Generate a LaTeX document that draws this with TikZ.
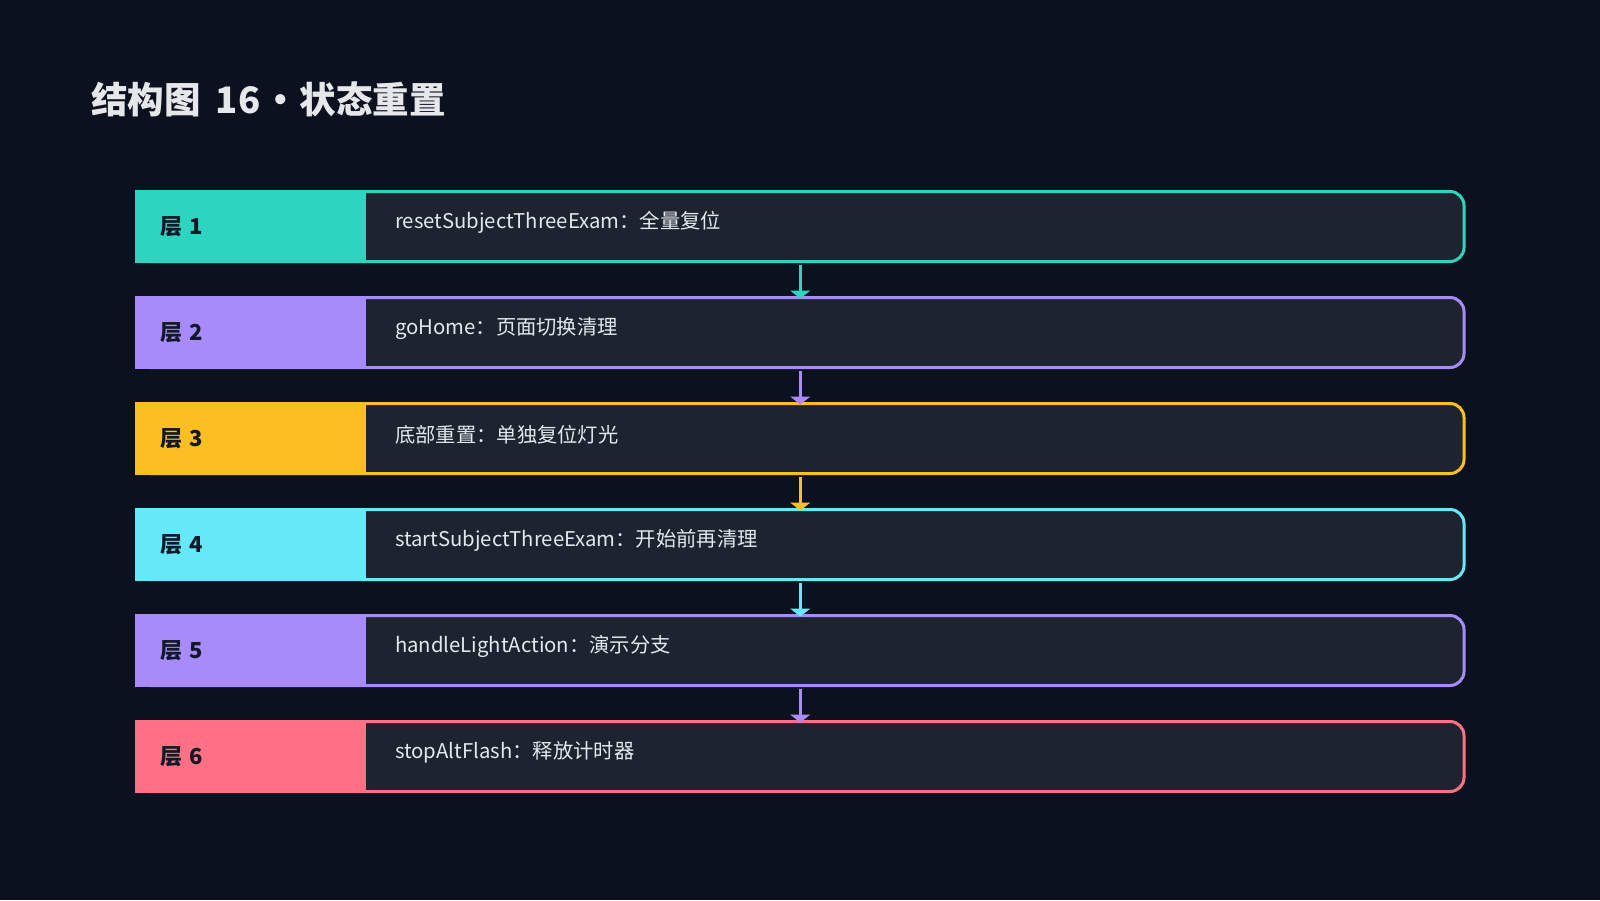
\documentclass[tikz,border=0pt]{standalone}
\usepackage{fontspec}
\setmainfont{Noto Sans CJK SC}
\usetikzlibrary{arrows.meta}
\definecolor{bg}{HTML}{0B111E}
\definecolor{panel}{HTML}{1E2330}
\definecolor{cteal}{HTML}{2DD4BF}
\definecolor{cpurple}{HTML}{A78BFA}
\definecolor{camber}{HTML}{FBBF24}
\definecolor{ccyan}{HTML}{67E8F9}
\definecolor{cpink}{HTML}{FF7085}
\definecolor{titletext}{HTML}{E5E7EB}
\definecolor{valtext}{HTML}{E2E8F0}
\definecolor{labtext}{HTML}{111827}
\tikzset{
  rowbox/.style={draw=#1, line width=3pt, fill=panel, rounded corners=14pt,
    minimum width=1327.5pt, minimum height=70pt, inner sep=0pt, outer sep=0pt},
  labbox/.style={fill=#1, minimum width=231pt, minimum height=73pt, inner sep=0pt, outer sep=0pt},
  labtxt/.style={text=labtext, font=\fontsize{22}{26}\selectfont\bfseries, anchor=west, inner sep=0pt},
  valtxt/.style={text=valtext, font=\fontsize{20.3}{24}\selectfont, anchor=west, inner sep=0pt},
  flow/.style={draw=#1, line width=3.5pt, -{Triangle[width=20pt,length=8pt]}, shorten <=3.5pt, shorten >=-1pt},
}
\begin{document}
\begin{tikzpicture}[x=1pt,y=-1pt]
\fill[bg] (0,0) rectangle (1600,900);
\useasboundingbox (0,0) rectangle (1600,900);
\node[anchor=base west, inner sep=0pt, text=titletext, font=\fontsize{36.5}{44}\selectfont\bfseries] (title) at (91,113) {结构图\hspace{0.42em}16\hspace{0.05em}•\hspace{0.02em}状态重置};
% rows
\foreach \i/\c/\lab/\val in {
  1/cteal/层\hspace{0.32em}1/resetSubjectThreeExam：全量复位,
  2/cpurple/层\hspace{0.32em}2/goHome：页面切换清理,
  3/camber/层\hspace{0.32em}3/底部重置：单独复位灯光,
  4/ccyan/层\hspace{0.32em}4/startSubjectThreeExam：开始前再清理,
  5/cpurple/层\hspace{0.32em}5/handleLightAction：演示分支,
  6/cpink/层\hspace{0.32em}6/stopAltFlash：释放计时器}{
  \pgfmathsetmacro{\yc}{226.5+106*(\i-1)}
  \node[rowbox=\c] (r\i) at (800.25,\yc) {};
  \node[labbox=\c, anchor=west] (l\i) at (135,\yc) {};
  \node[labtxt] (lt\i) at (160.5,\yc) {\lab};
  \node[valtxt] (vt\i) at (395,\yc-4) {\val};
}
% arrows
\draw[flow=cteal] (r1.south) -- (r2.north);
\draw[flow=cpurple] (r2.south) -- (r3.north);
\draw[flow=camber] (r3.south) -- (r4.north);
\draw[flow=ccyan] (r4.south) -- (r5.north);
\draw[flow=cpurple] (r5.south) -- (r6.north);
\end{tikzpicture}
\end{document}
